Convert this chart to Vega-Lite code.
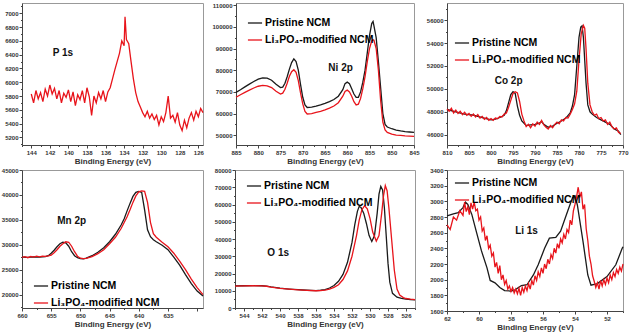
{
"$schema": "https://vega.github.io/schema/vega-lite/v6.json",
"padding": {"left": 0, "top": 1, "right": 0, "bottom": 0},
"background": "white",
"config": {
  "font": "Liberation Sans",
  "view": {"stroke": "#999", "strokeWidth": 1},
  "axis": {"labelFontSize": 6, "labelFontWeight": "bold", "labelColor": "#333", "domainColor": "#444", "tickColor": "#444", "tickSize": 3, "grid": false, "labelPadding": 1, "titleFontSize": 8, "titleFontWeight": "bold", "titleColor": "#333", "titlePadding": 2, "labelFlush": false, "labelOverlap": false, "labelBound": false},
  "line": {"strokeWidth": 1.3, "clip": true},
  "text": {"font": "Liberation Sans", "fontWeight": "bold", "fontSize": 10, "color": "#111"},
  "legend": {"title": null, "orient": "none", "symbolType": "stroke", "symbolSize": 200, "symbolStrokeWidth": 1.5, "labelFontSize": 10.5, "labelFontWeight": "bold", "rowPadding": 3, "labelOffset": 2, "padding": 0, "labelLimit": 200}
},
"datasets": {
"p1s": [
{"e":144.00,"i":5830},{"e":143.75,"i":5700},{"e":143.50,"i":5880},{"e":143.25,"i":5760},{"e":143.00,"i":5850},{"e":142.75,"i":5720},{"e":142.50,"i":5900},{"e":142.25,"i":5800},{"e":142.00,"i":5960},{"e":141.75,"i":5830},{"e":141.50,"i":5910},{"e":141.25,"i":5760},{"e":141.00,"i":5880},{"e":140.75,"i":5700},{"e":140.50,"i":5840},{"e":140.25,"i":5780},{"e":140.00,"i":5890},{"e":139.75,"i":5720},{"e":139.50,"i":5860},{"e":139.25,"i":5660},{"e":139.00,"i":5820},{"e":138.75,"i":5750},{"e":138.50,"i":5880},{"e":138.25,"i":5700},{"e":138.00,"i":5920},{"e":137.75,"i":5790},{"e":137.50,"i":5520},{"e":137.25,"i":5800},{"e":137.00,"i":5700},{"e":136.75,"i":5850},{"e":136.50,"i":5760},{"e":136.25,"i":5880},{"e":136.00,"i":5720},{"e":135.75,"i":5860},{"e":135.50,"i":5920},{"e":135.25,"i":6050},{"e":135.00,"i":6180},{"e":134.75,"i":6300},{"e":134.50,"i":6420},{"e":134.25,"i":6600},{"e":134.00,"i":6530},{"e":133.90,"i":6950},{"e":133.75,"i":6620},{"e":133.50,"i":6560},{"e":133.25,"i":6300},{"e":133.00,"i":6050},{"e":132.75,"i":5850},{"e":132.50,"i":5720},{"e":132.25,"i":5640},{"e":132.00,"i":5560},{"e":131.75,"i":5500},{"e":131.50,"i":5580},{"e":131.25,"i":5480},{"e":131.00,"i":5540},{"e":130.75,"i":5460},{"e":130.50,"i":5520},{"e":130.25,"i":5380},{"e":130.00,"i":5500},{"e":129.75,"i":5430},{"e":129.50,"i":5560},{"e":129.25,"i":5800},{"e":129.00,"i":5480},{"e":128.75,"i":5520},{"e":128.50,"i":5420},{"e":128.25,"i":5560},{"e":128.00,"i":5380},{"e":127.75,"i":5300},{"e":127.50,"i":5450},{"e":127.25,"i":5340},{"e":127.00,"i":5480},{"e":126.75,"i":5560},{"e":126.50,"i":5450},{"e":126.25,"i":5580},{"e":126.00,"i":5500},{"e":125.75,"i":5620},{"e":125.50,"i":5560}
],
"ni": [
{"s":"P","e":885,"i":69800},{"s":"P","e":884,"i":71000},{"s":"P","e":883,"i":72300},{"s":"P","e":882,"i":73600},{"s":"P","e":881,"i":74800},{"s":"P","e":880,"i":75900},{"s":"P","e":879,"i":76500},{"s":"P","e":878,"i":76300},{"s":"P","e":877,"i":75400},{"s":"P","e":876,"i":73500},{"s":"P","e":875,"i":72000},{"s":"P","e":874.5,"i":72200},{"s":"P","e":874,"i":74000},{"s":"P","e":873.5,"i":77000},{"s":"P","e":873,"i":80500},{"s":"P","e":872.5,"i":83500},{"s":"P","e":872,"i":85200},{"s":"P","e":871.5,"i":84000},{"s":"P","e":871,"i":80000},{"s":"P","e":870.5,"i":73500},{"s":"P","e":870,"i":67500},{"s":"P","e":869.5,"i":64000},{"s":"P","e":869,"i":62800},{"s":"P","e":868,"i":63000},{"s":"P","e":867,"i":63400},{"s":"P","e":866,"i":64000},{"s":"P","e":865,"i":64700},{"s":"P","e":864,"i":65500},{"s":"P","e":863,"i":66500},{"s":"P","e":862,"i":68000},{"s":"P","e":861,"i":71000},{"s":"P","e":860.5,"i":73800},{"s":"P","e":860,"i":74500},{"s":"P","e":859.5,"i":73800},{"s":"P","e":859,"i":71500},{"s":"P","e":858.5,"i":69000},{"s":"P","e":858,"i":67500},{"s":"P","e":857.5,"i":67500},{"s":"P","e":857,"i":70000},{"s":"P","e":856.5,"i":74500},{"s":"P","e":856,"i":80000},{"s":"P","e":855.5,"i":88000},{"s":"P","e":855,"i":96000},{"s":"P","e":854.5,"i":101500},{"s":"P","e":854.2,"i":102500},{"s":"P","e":854,"i":100500},{"s":"P","e":853.5,"i":95000},{"s":"P","e":853,"i":84000},{"s":"P","e":852.5,"i":72000},{"s":"P","e":852,"i":60000},{"s":"P","e":851.5,"i":55000},{"s":"P","e":851,"i":53800},{"s":"P","e":850,"i":53000},{"s":"P","e":849,"i":52400},{"s":"P","e":848,"i":52000},{"s":"P","e":847,"i":51700},{"s":"P","e":846,"i":51500},{"s":"P","e":845,"i":51300},
{"s":"L","e":885,"i":67500},{"s":"L","e":884,"i":68700},{"s":"L","e":883,"i":69800},{"s":"L","e":882,"i":70800},{"s":"L","e":881,"i":71800},{"s":"L","e":880,"i":72600},{"s":"L","e":879,"i":73000},{"s":"L","e":878,"i":72800},{"s":"L","e":877,"i":72000},{"s":"L","e":876,"i":70300},{"s":"L","e":875,"i":69000},{"s":"L","e":874.5,"i":69400},{"s":"L","e":874,"i":71200},{"s":"L","e":873.5,"i":74000},{"s":"L","e":873,"i":77200},{"s":"L","e":872.5,"i":79300},{"s":"L","e":872,"i":80200},{"s":"L","e":871.5,"i":79000},{"s":"L","e":871,"i":75200},{"s":"L","e":870.5,"i":69500},{"s":"L","e":870,"i":64500},{"s":"L","e":869.5,"i":61000},{"s":"L","e":869,"i":59800},{"s":"L","e":868,"i":60000},{"s":"L","e":867,"i":60500},{"s":"L","e":866,"i":61000},{"s":"L","e":865,"i":61700},{"s":"L","e":864,"i":62500},{"s":"L","e":863,"i":63500},{"s":"L","e":862,"i":65000},{"s":"L","e":861,"i":68000},{"s":"L","e":860.5,"i":70200},{"s":"L","e":860,"i":70800},{"s":"L","e":859.5,"i":70000},{"s":"L","e":859,"i":68000},{"s":"L","e":858.5,"i":65500},{"s":"L","e":858,"i":64000},{"s":"L","e":857.5,"i":64300},{"s":"L","e":857,"i":67000},{"s":"L","e":856.5,"i":71500},{"s":"L","e":856,"i":77000},{"s":"L","e":855.5,"i":84000},{"s":"L","e":855,"i":90000},{"s":"L","e":854.5,"i":93500},{"s":"L","e":854.2,"i":94000},{"s":"L","e":854,"i":93800},{"s":"L","e":853.5,"i":90000},{"s":"L","e":853,"i":80000},{"s":"L","e":852.5,"i":66000},{"s":"L","e":852,"i":56000},{"s":"L","e":851.5,"i":52500},{"s":"L","e":851,"i":51300},{"s":"L","e":850,"i":50500},{"s":"L","e":849,"i":50100},{"s":"L","e":848,"i":49900},{"s":"L","e":847,"i":49700},{"s":"L","e":846,"i":49600},{"s":"L","e":845,"i":49500}
],
"co": [
{"s":"P","e":810,"i":48200},{"s":"P","e":808,"i":48000},{"s":"P","e":806,"i":47800},{"s":"P","e":804,"i":47700},{"s":"P","e":802,"i":47500},{"s":"P","e":800,"i":47300},{"s":"P","e":799,"i":47350},{"s":"P","e":798,"i":47500},{"s":"P","e":797,"i":47700},{"s":"P","e":796.5,"i":48100},{"s":"P","e":796,"i":48800},{"s":"P","e":795.5,"i":49500},{"s":"P","e":795,"i":49750},{"s":"P","e":794.5,"i":49600},{"s":"P","e":794,"i":48500},{"s":"P","e":793.5,"i":47700},{"s":"P","e":793,"i":47200},{"s":"P","e":792,"i":46800},{"s":"P","e":791,"i":46850},{"s":"P","e":790,"i":46900},{"s":"P","e":789,"i":47000},{"s":"P","e":788.5,"i":47150},{"s":"P","e":788,"i":46900},{"s":"P","e":787,"i":46650},{"s":"P","e":786,"i":46750},{"s":"P","e":785,"i":47000},{"s":"P","e":784,"i":47200},{"s":"P","e":783,"i":47450},{"s":"P","e":782,"i":47900},{"s":"P","e":781.5,"i":48500},{"s":"P","e":781,"i":49500},{"s":"P","e":780.5,"i":52000},{"s":"P","e":780,"i":54500},{"s":"P","e":779.6,"i":55400},{"s":"P","e":779.3,"i":55500},{"s":"P","e":779,"i":54500},{"s":"P","e":778.7,"i":52500},{"s":"P","e":778.4,"i":50500},{"s":"P","e":778,"i":48600},{"s":"P","e":777.5,"i":48000},{"s":"P","e":777,"i":47800},{"s":"P","e":776,"i":47500},{"s":"P","e":775,"i":47300},{"s":"P","e":774,"i":47100},{"s":"P","e":773,"i":46900},{"s":"P","e":772,"i":46500},{"s":"P","e":771,"i":46300},{"s":"P","e":770.5,"i":46000},
{"s":"L","e":810,"i":48250},{"s":"L","e":809.5,"i":48050},{"s":"L","e":809,"i":48300},{"s":"L","e":808.5,"i":47900},{"s":"L","e":808,"i":48150},{"s":"L","e":807.5,"i":47850},{"s":"L","e":807,"i":48050},{"s":"L","e":806.5,"i":47750},{"s":"L","e":806,"i":47950},{"s":"L","e":805.5,"i":47700},{"s":"L","e":805,"i":47850},{"s":"L","e":804.5,"i":47600},{"s":"L","e":804,"i":47800},{"s":"L","e":803.5,"i":47550},{"s":"L","e":803,"i":47750},{"s":"L","e":802.5,"i":47450},{"s":"L","e":802,"i":47600},{"s":"L","e":801.5,"i":47350},{"s":"L","e":801,"i":47500},{"s":"L","e":800.5,"i":47250},{"s":"L","e":800,"i":47400},{"s":"L","e":799.5,"i":47250},{"s":"L","e":799,"i":47450},{"s":"L","e":798.5,"i":47400},{"s":"L","e":798,"i":47600},{"s":"L","e":797.5,"i":47550},{"s":"L","e":797,"i":47800},{"s":"L","e":796.5,"i":47900},{"s":"L","e":796,"i":48400},{"s":"L","e":795.5,"i":49000},{"s":"L","e":795,"i":49600},{"s":"L","e":794.5,"i":49750},{"s":"L","e":794,"i":49650},{"s":"L","e":793.5,"i":48900},{"s":"L","e":793,"i":47800},{"s":"L","e":792.5,"i":47200},{"s":"L","e":792,"i":46700},{"s":"L","e":791.5,"i":46900},{"s":"L","e":791,"i":46600},{"s":"L","e":790.5,"i":46950},{"s":"L","e":790,"i":46750},{"s":"L","e":789.5,"i":47100},{"s":"L","e":789,"i":46900},{"s":"L","e":788.5,"i":47250},{"s":"L","e":788,"i":46850},{"s":"L","e":787.5,"i":46650},{"s":"L","e":787,"i":46500},{"s":"L","e":786.5,"i":46800},{"s":"L","e":786,"i":46600},{"s":"L","e":785.5,"i":46900},{"s":"L","e":785,"i":47100},{"s":"L","e":784.5,"i":46950},{"s":"L","e":784,"i":47300},{"s":"L","e":783.5,"i":47200},{"s":"L","e":783,"i":47500},{"s":"L","e":782.5,"i":47450},{"s":"L","e":782,"i":47800},{"s":"L","e":781.5,"i":48200},{"s":"L","e":781,"i":48700},{"s":"L","e":780.5,"i":49800},{"s":"L","e":780,"i":52500},{"s":"L","e":779.5,"i":54800},{"s":"L","e":779,"i":55550},{"s":"L","e":778.7,"i":55300},{"s":"L","e":778.4,"i":53500},{"s":"L","e":778,"i":50500},{"s":"L","e":777.5,"i":48600},{"s":"L","e":777,"i":48000},{"s":"L","e":776.5,"i":47700},{"s":"L","e":776,"i":47800},{"s":"L","e":775.5,"i":47400},{"s":"L","e":775,"i":47500},{"s":"L","e":774.5,"i":47200},{"s":"L","e":774,"i":47300},{"s":"L","e":773.5,"i":46900},{"s":"L","e":773,"i":47100},{"s":"L","e":772.5,"i":46700},{"s":"L","e":772,"i":46500},{"s":"L","e":771.5,"i":46600},{"s":"L","e":771,"i":46200},{"s":"L","e":770.5,"i":46100}
],
"mn": [
{"s":"P","e":660,"i":27500},{"s":"P","e":659,"i":27450},{"s":"P","e":658,"i":27550},{"s":"P","e":657,"i":27500},{"s":"P","e":656,"i":27600},{"s":"P","e":655.5,"i":27800},{"s":"P","e":655,"i":28300},{"s":"P","e":654.5,"i":28900},{"s":"P","e":654,"i":29600},{"s":"P","e":653.5,"i":30200},{"s":"P","e":653,"i":30500},{"s":"P","e":652.5,"i":30400},{"s":"P","e":652,"i":29700},{"s":"P","e":651.5,"i":28600},{"s":"P","e":651,"i":27800},{"s":"P","e":650.5,"i":27400},{"s":"P","e":650,"i":27200},{"s":"P","e":649.5,"i":27150},{"s":"P","e":649,"i":27300},{"s":"P","e":648,"i":27800},{"s":"P","e":647,"i":28500},{"s":"P","e":646,"i":29400},{"s":"P","e":645,"i":30600},{"s":"P","e":644,"i":32100},{"s":"P","e":643,"i":34000},{"s":"P","e":642.5,"i":35200},{"s":"P","e":642,"i":36800},{"s":"P","e":641.5,"i":38300},{"s":"P","e":641,"i":39700},{"s":"P","e":640.5,"i":40500},{"s":"P","e":640,"i":40700},{"s":"P","e":639.5,"i":40500},{"s":"P","e":639,"i":37000},{"s":"P","e":638.5,"i":33000},{"s":"P","e":638,"i":31600},{"s":"P","e":637.5,"i":31000},{"s":"P","e":637,"i":30600},{"s":"P","e":636,"i":29900},{"s":"P","e":635,"i":29000},{"s":"P","e":634,"i":27500},{"s":"P","e":633,"i":25900},{"s":"P","e":632,"i":24000},{"s":"P","e":631,"i":22200},{"s":"P","e":630,"i":20700},{"s":"P","e":629,"i":19700},
{"s":"L","e":660,"i":27450},{"s":"L","e":659.5,"i":27600},{"s":"L","e":659,"i":27400},{"s":"L","e":658.5,"i":27650},{"s":"L","e":658,"i":27500},{"s":"L","e":657.5,"i":27700},{"s":"L","e":657,"i":27550},{"s":"L","e":656.5,"i":27700},{"s":"L","e":656,"i":27650},{"s":"L","e":655.5,"i":27750},{"s":"L","e":655,"i":27900},{"s":"L","e":654.5,"i":28400},{"s":"L","e":654,"i":29000},{"s":"L","e":653.5,"i":29700},{"s":"L","e":653,"i":30200},{"s":"L","e":652.5,"i":30600},{"s":"L","e":652,"i":30500},{"s":"L","e":651.5,"i":29700},{"s":"L","e":651,"i":28600},{"s":"L","e":650.5,"i":27700},{"s":"L","e":650,"i":27300},{"s":"L","e":649.5,"i":27200},{"s":"L","e":649,"i":27250},{"s":"L","e":648,"i":27600},{"s":"L","e":647,"i":28200},{"s":"L","e":646,"i":29000},{"s":"L","e":645,"i":30200},{"s":"L","e":644,"i":31500},{"s":"L","e":643,"i":33300},{"s":"L","e":642,"i":35600},{"s":"L","e":641.5,"i":37000},{"s":"L","e":641,"i":38500},{"s":"L","e":640.5,"i":39800},{"s":"L","e":640,"i":40600},{"s":"L","e":639.5,"i":40800},{"s":"L","e":639,"i":40700},{"s":"L","e":638.5,"i":38500},{"s":"L","e":638,"i":34500},{"s":"L","e":637.5,"i":32200},{"s":"L","e":637,"i":31500},{"s":"L","e":636,"i":30500},{"s":"L","e":635,"i":29600},{"s":"L","e":634,"i":28300},{"s":"L","e":633,"i":26700},{"s":"L","e":632,"i":25000},{"s":"L","e":631,"i":23100},{"s":"L","e":630,"i":21400},{"s":"L","e":629,"i":20000}
],
"o": [
{"s":"P","e":545,"i":12800},{"s":"P","e":544,"i":12900},{"s":"P","e":543,"i":13000},{"s":"P","e":542,"i":12900},{"s":"P","e":541.5,"i":12700},{"s":"P","e":541,"i":12200},{"s":"P","e":540,"i":11500},{"s":"P","e":539,"i":11000},{"s":"P","e":538,"i":10600},{"s":"P","e":537,"i":10300},{"s":"P","e":536,"i":10100},{"s":"P","e":535.5,"i":10300},{"s":"P","e":535,"i":10700},{"s":"P","e":534.5,"i":11600},{"s":"P","e":534,"i":13000},{"s":"P","e":533.5,"i":15500},{"s":"P","e":533,"i":19500},{"s":"P","e":532.5,"i":26500},{"s":"P","e":532,"i":38000},{"s":"P","e":531.7,"i":48000},{"s":"P","e":531.4,"i":56000},{"s":"P","e":531.2,"i":58900},{"s":"P","e":531,"i":58300},{"s":"P","e":530.7,"i":55000},{"s":"P","e":530.4,"i":49000},{"s":"P","e":530.1,"i":42000},{"s":"P","e":529.8,"i":38600},{"s":"P","e":529.5,"i":42000},{"s":"P","e":529.2,"i":55000},{"s":"P","e":529,"i":66000},{"s":"P","e":528.8,"i":70500},{"s":"P","e":528.6,"i":68500},{"s":"P","e":528.4,"i":58000},{"s":"P","e":528.2,"i":42000},{"s":"P","e":528,"i":26000},{"s":"P","e":527.8,"i":15000},{"s":"P","e":527.5,"i":8500},{"s":"P","e":527,"i":6300},{"s":"P","e":526.5,"i":5600},{"s":"P","e":526,"i":5100},{"s":"P","e":525.5,"i":4900},{"s":"P","e":525,"i":4700},
{"s":"L","e":545,"i":12700},{"s":"L","e":544,"i":12800},{"s":"L","e":543,"i":12900},{"s":"L","e":542,"i":12800},{"s":"L","e":541.5,"i":12600},{"s":"L","e":541,"i":12100},{"s":"L","e":540,"i":11400},{"s":"L","e":539,"i":10900},{"s":"L","e":538,"i":10500},{"s":"L","e":537,"i":10200},{"s":"L","e":536,"i":10000},{"s":"L","e":535.5,"i":10100},{"s":"L","e":535,"i":10400},{"s":"L","e":534.5,"i":11000},{"s":"L","e":534,"i":12000},{"s":"L","e":533.5,"i":13500},{"s":"L","e":533,"i":16500},{"s":"L","e":532.5,"i":21500},{"s":"L","e":532,"i":30000},{"s":"L","e":531.5,"i":42000},{"s":"L","e":531.2,"i":51000},{"s":"L","e":530.9,"i":57000},{"s":"L","e":530.6,"i":59300},{"s":"L","e":530.3,"i":57500},{"s":"L","e":530,"i":52000},{"s":"L","e":529.7,"i":44000},{"s":"L","e":529.3,"i":38800},{"s":"L","e":529,"i":42000},{"s":"L","e":528.7,"i":55000},{"s":"L","e":528.5,"i":65000},{"s":"L","e":528.3,"i":71000},{"s":"L","e":528.1,"i":68000},{"s":"L","e":527.9,"i":58000},{"s":"L","e":527.6,"i":40000},{"s":"L","e":527.3,"i":22000},{"s":"L","e":527,"i":11000},{"s":"L","e":526.7,"i":7500},{"s":"L","e":526.3,"i":6000},{"s":"L","e":526,"i":5500},{"s":"L","e":525.5,"i":5100},{"s":"L","e":525,"i":4900}
],
"li": [
{"s":"P","e":62,"i":2814},{"s":"P","e":61.6,"i":2840},{"s":"P","e":61.3,"i":2856},{"s":"P","e":61.0,"i":2920},{"s":"P","e":60.85,"i":2990},{"s":"P","e":60.7,"i":2960},{"s":"P","e":60.45,"i":2834},{"s":"P","e":60.15,"i":2600},{"s":"P","e":59.85,"i":2370},{"s":"P","e":59.5,"i":2150},{"s":"P","e":59.3,"i":1990},{"s":"P","e":59.0,"i":1960},{"s":"P","e":58.7,"i":1900},{"s":"P","e":58.4,"i":1860},{"s":"P","e":58.0,"i":1855},{"s":"P","e":57.75,"i":1870},{"s":"P","e":57.35,"i":1925},{"s":"P","e":57.0,"i":1935},{"s":"P","e":56.6,"i":2060},{"s":"P","e":56.3,"i":2190},{"s":"P","e":55.9,"i":2400},{"s":"P","e":55.6,"i":2530},{"s":"P","e":55.2,"i":2540},{"s":"P","e":54.9,"i":2620},{"s":"P","e":54.45,"i":2880},{"s":"P","e":54.15,"i":3050},{"s":"P","e":54.0,"i":3070},{"s":"P","e":53.85,"i":2950},{"s":"P","e":53.5,"i":2490},{"s":"P","e":53.2,"i":2060},{"s":"P","e":53.0,"i":1930},{"s":"P","e":52.6,"i":1950},{"s":"P","e":52.0,"i":2040},{"s":"P","e":51.45,"i":2190},{"s":"P","e":51.05,"i":2400},{"s":"P","e":51.0,"i":2420},
{"s":"L","e":62.0,"i":2700},{"s":"L","e":61.8,"i":2640},{"s":"L","e":61.6,"i":2800},{"s":"L","e":61.4,"i":2760},{"s":"L","e":61.2,"i":2880},{"s":"L","e":61.0,"i":2820},{"s":"L","e":60.9,"i":2990},{"s":"L","e":60.8,"i":2870},{"s":"L","e":60.7,"i":2930},{"s":"L","e":60.6,"i":2830},{"s":"L","e":60.5,"i":2980},{"s":"L","e":60.4,"i":2900},{"s":"L","e":60.3,"i":2990},{"s":"L","e":60.2,"i":2880},{"s":"L","e":60.1,"i":2900},{"s":"L","e":60.0,"i":2760},{"s":"L","e":59.9,"i":2800},{"s":"L","e":59.8,"i":2620},{"s":"L","e":59.7,"i":2660},{"s":"L","e":59.6,"i":2500},{"s":"L","e":59.5,"i":2560},{"s":"L","e":59.4,"i":2400},{"s":"L","e":59.3,"i":2440},{"s":"L","e":59.2,"i":2300},{"s":"L","e":59.1,"i":2340},{"s":"L","e":59.0,"i":2160},{"s":"L","e":58.9,"i":2220},{"s":"L","e":58.8,"i":2080},{"s":"L","e":58.7,"i":2180},{"s":"L","e":58.6,"i":2000},{"s":"L","e":58.5,"i":2060},{"s":"L","e":58.4,"i":1940},{"s":"L","e":58.3,"i":1990},{"s":"L","e":58.2,"i":1880},{"s":"L","e":58.1,"i":1920},{"s":"L","e":58.0,"i":1850},{"s":"L","e":57.9,"i":1900},{"s":"L","e":57.8,"i":1830},{"s":"L","e":57.7,"i":1880},{"s":"L","e":57.6,"i":1820},{"s":"L","e":57.5,"i":1890},{"s":"L","e":57.4,"i":1800},{"s":"L","e":57.3,"i":1900},{"s":"L","e":57.2,"i":1840},{"s":"L","e":57.1,"i":1920},{"s":"L","e":57.0,"i":1860},{"s":"L","e":56.9,"i":1950},{"s":"L","e":56.8,"i":1880},{"s":"L","e":56.7,"i":1990},{"s":"L","e":56.6,"i":1930},{"s":"L","e":56.5,"i":2050},{"s":"L","e":56.4,"i":1990},{"s":"L","e":56.3,"i":2100},{"s":"L","e":56.2,"i":2040},{"s":"L","e":56.1,"i":2150},{"s":"L","e":56.0,"i":2080},{"s":"L","e":55.9,"i":2200},{"s":"L","e":55.8,"i":2140},{"s":"L","e":55.7,"i":2260},{"s":"L","e":55.6,"i":2200},{"s":"L","e":55.5,"i":2320},{"s":"L","e":55.4,"i":2270},{"s":"L","e":55.3,"i":2400},{"s":"L","e":55.2,"i":2340},{"s":"L","e":55.1,"i":2460},{"s":"L","e":55.0,"i":2400},{"s":"L","e":54.9,"i":2520},{"s":"L","e":54.8,"i":2470},{"s":"L","e":54.7,"i":2580},{"s":"L","e":54.6,"i":2520},{"s":"L","e":54.5,"i":2640},{"s":"L","e":54.4,"i":2600},{"s":"L","e":54.3,"i":2760},{"s":"L","e":54.2,"i":2700},{"s":"L","e":54.1,"i":2880},{"s":"L","e":54.0,"i":2960},{"s":"L","e":53.9,"i":3060},{"s":"L","e":53.8,"i":3180},{"s":"L","e":53.7,"i":3050},{"s":"L","e":53.6,"i":3120},{"s":"L","e":53.5,"i":2900},{"s":"L","e":53.4,"i":2960},{"s":"L","e":53.3,"i":2650},{"s":"L","e":53.2,"i":2500},{"s":"L","e":53.1,"i":2300},{"s":"L","e":53.0,"i":2200},{"s":"L","e":52.9,"i":2050},{"s":"L","e":52.8,"i":1980},{"s":"L","e":52.7,"i":1900},{"s":"L","e":52.6,"i":1960},{"s":"L","e":52.5,"i":1880},{"s":"L","e":52.4,"i":1990},{"s":"L","e":52.3,"i":1920},{"s":"L","e":52.2,"i":2000},{"s":"L","e":52.1,"i":1940},{"s":"L","e":52.0,"i":2020},{"s":"L","e":51.9,"i":1960},{"s":"L","e":51.8,"i":2060},{"s":"L","e":51.7,"i":2000},{"s":"L","e":51.6,"i":2090},{"s":"L","e":51.5,"i":2040},{"s":"L","e":51.4,"i":2130},{"s":"L","e":51.3,"i":2080},{"s":"L","e":51.2,"i":2160},{"s":"L","e":51.1,"i":2110},{"s":"L","e":51.0,"i":2200}
]
},
"spacing": 0,
"resolve": {"scale": {"color": "independent"}, "legend": {"color": "independent"}},
"vconcat": [
{
"hconcat": [
{
"width": 181, "height": 142,
"layer": [
{"data": {"name": "p1s"}, "mark": {"type": "line", "color": "#e8141b"},
 "encoding": {
  "x": {"field": "e", "type": "quantitative", "scale": {"domain": [125.5, 145], "reverse": true, "nice": false, "zero": false}, "axis": {"values": [126,127,128,129,130,131,132,133,134,135,136,137,138,139,140,141,142,143,144,145], "labelOverlap": false, "labelExpr": "datum.value % 2 === 0 && datum.value < 145 ? datum.label : ''", "tickSize": {"condition": {"test": "datum.value % 2 === 0", "value": 3}, "value": 1.5}, "title": "Binding Energy (eV)"}},
  "y": {"field": "i", "type": "quantitative", "scale": {"domain": [5090, 7150], "nice": false, "zero": false}, "axis": {"values": [5100,5200,5300,5400,5500,5600,5700,5800,5900,6000,6100,6200,6300,6400,6500,6600,6700,6800,6900,7000,7100], "labelOverlap": false, "labelExpr": "datum.value % 200 === 0 ? datum.label : ''", "tickSize": {"condition": {"test": "datum.value % 200 === 0", "value": 3}, "value": 1.5}, "title": null, "format": "d"}}
 }},
{"data": {"values": [{"t": "P 1s"}]}, "mark": {"type": "text"},
 "encoding": {
  "x": {"datum": 140.6, "type": "quantitative", "axis": {"values": [126,127,128,129,130,131,132,133,134,135,136,137,138,139,140,141,142,143,144,145], "labelOverlap": false, "labelExpr": "datum.value % 2 === 0 && datum.value < 145 ? datum.label : ''", "tickSize": {"condition": {"test": "datum.value % 2 === 0", "value": 3}, "value": 1.5}, "title": "Binding Energy (eV)"}},
  "y": {"datum": 6424, "type": "quantitative", "axis": {"values": [5100,5200,5300,5400,5500,5600,5700,5800,5900,6000,6100,6200,6300,6400,6500,6600,6700,6800,6900,7000,7100], "labelOverlap": false, "labelExpr": "datum.value % 200 === 0 ? datum.label : ''", "tickSize": {"condition": {"test": "datum.value % 200 === 0", "value": 3}, "value": 1.5}, "title": null, "format": "d"}},
  "text": {"field": "t"}}}
]
},
{
"width": 178, "height": 142,
"layer": [
{"data": {"name": "ni"}, "mark": {"type": "line"},
 "encoding": {
  "x": {"field": "e", "type": "quantitative", "scale": {"domain": [845, 885], "reverse": true, "nice": false, "zero": false}, "axis": {"values": [845,847.5,850,852.5,855,857.5,860,862.5,865,867.5,870,872.5,875,877.5,880,882.5,885], "labelOverlap": false, "labelExpr": "datum.value % 5 === 0 ? datum.label : ''", "tickSize": {"condition": {"test": "datum.value % 5 === 0", "value": 3}, "value": 1.5}, "title": "Binding Energy (eV)"}},
  "y": {"field": "i", "type": "quantitative", "scale": {"domain": [45500, 111000], "nice": false, "zero": false}, "axis": {"values": [50000,55000,60000,65000,70000,75000,80000,85000,90000,95000,100000,105000,110000], "labelOverlap": false, "labelExpr": "datum.value % 10000 === 0 ? datum.label : ''", "tickSize": {"condition": {"test": "datum.value % 10000 === 0", "value": 3}, "value": 1.5}, "title": null, "format": "d"}},
  "color": {"field": "s", "type": "nominal", "scale": {"domain": ["P", "L"], "range": ["#1a1a1a", "#e8141b"]},
   "legend": {"legendX": 11, "legendY": 12, "labelExpr": "datum.value == 'P' ? 'Pristine NCM' : 'Li₃PO₄-modified NCM'", "encode": {"labels": {"update": {"fill": {"signal": "datum.value == 'P' ? '#1a1a1a' : '#e8141b'"}}}}}}
 }},
{"data": {"values": [{"t": "Ni 2p"}]}, "mark": {"type": "text"},
 "encoding": {
  "x": {"datum": 861.5, "type": "quantitative", "axis": {"values": [845,847.5,850,852.5,855,857.5,860,862.5,865,867.5,870,872.5,875,877.5,880,882.5,885], "labelOverlap": false, "labelExpr": "datum.value % 5 === 0 ? datum.label : ''", "tickSize": {"condition": {"test": "datum.value % 5 === 0", "value": 3}, "value": 1.5}, "title": "Binding Energy (eV)"}},
  "y": {"datum": 81000, "type": "quantitative", "axis": {"values": [50000,55000,60000,65000,70000,75000,80000,85000,90000,95000,100000,105000,110000], "labelOverlap": false, "labelExpr": "datum.value % 10000 === 0 ? datum.label : ''", "tickSize": {"condition": {"test": "datum.value % 10000 === 0", "value": 3}, "value": 1.5}, "title": null, "format": "d"}},
  "text": {"field": "t"}}}
]
},
{
"width": 176, "height": 142,
"layer": [
{"data": {"name": "co"}, "mark": {"type": "line"},
 "encoding": {
  "x": {"field": "e", "type": "quantitative", "scale": {"domain": [770, 810], "reverse": true, "nice": false, "zero": false}, "axis": {"values": [770,772.5,775,777.5,780,782.5,785,787.5,790,792.5,795,797.5,800,802.5,805,807.5,810], "labelOverlap": false, "labelExpr": "datum.value % 5 === 0 ? datum.label : ''", "tickSize": {"condition": {"test": "datum.value % 5 === 0", "value": 3}, "value": 1.5}, "title": "Binding Energy (eV)"}},
  "y": {"field": "i", "type": "quantitative", "scale": {"domain": [45100, 57500], "nice": false, "zero": false}, "axis": {"values": [46000,47000,48000,49000,50000,51000,52000,53000,54000,55000,56000,57000], "labelOverlap": false, "labelExpr": "datum.value % 2000 === 0 ? datum.label : ''", "tickSize": {"condition": {"test": "datum.value % 2000 === 0", "value": 3}, "value": 1.5}, "title": null, "format": "d"}},
  "color": {"field": "s", "type": "nominal", "scale": {"domain": ["P", "L"], "range": ["#1a1a1a", "#e8141b"]},
   "legend": {"legendX": 7, "legendY": 32, "labelExpr": "datum.value == 'P' ? 'Pristine NCM' : 'Li₃PO₄-modified NCM'", "encode": {"labels": {"update": {"fill": {"signal": "datum.value == 'P' ? '#1a1a1a' : '#e8141b'"}}}}}}
 }},
{"data": {"values": [{"t": "Co 2p"}]}, "mark": {"type": "text"},
 "encoding": {
  "x": {"datum": 796, "type": "quantitative", "axis": {"values": [770,772.5,775,777.5,780,782.5,785,787.5,790,792.5,795,797.5,800,802.5,805,807.5,810], "labelOverlap": false, "labelExpr": "datum.value % 5 === 0 ? datum.label : ''", "tickSize": {"condition": {"test": "datum.value % 5 === 0", "value": 3}, "value": 1.5}, "title": "Binding Energy (eV)"}},
  "y": {"datum": 50720, "type": "quantitative", "axis": {"values": [46000,47000,48000,49000,50000,51000,52000,53000,54000,55000,56000,57000], "labelOverlap": false, "labelExpr": "datum.value % 2000 === 0 ? datum.label : ''", "tickSize": {"condition": {"test": "datum.value % 2000 === 0", "value": 3}, "value": 1.5}, "title": null, "format": "d"}},
  "text": {"field": "t"}}}
]
}
],
"spacing": 33,
"bounds": "flush",
"resolve": {"scale": {"color": "independent"}, "legend": {"color": "independent"}}
},
{
"hconcat": [
{
"width": 181, "height": 138,
"layer": [
{"data": {"name": "mn"}, "mark": {"type": "line"},
 "encoding": {
  "x": {"field": "e", "type": "quantitative", "scale": {"domain": [629, 660], "reverse": true, "nice": false, "zero": false}, "axis": {"values": [630,632.5,635,637.5,640,642.5,645,647.5,650,652.5,655,657.5,660], "labelOverlap": false, "labelExpr": "datum.value % 5 === 0 && datum.value > 631 ? datum.label : ''", "tickSize": {"condition": {"test": "datum.value % 5 === 0", "value": 3}, "value": 1.5}, "title": "Binding Energy (eV)"}},
  "y": {"field": "i", "type": "quantitative", "scale": {"domain": [17300, 45000], "nice": false, "zero": false}, "axis": {"values": [17500,20000,22500,25000,27500,30000,32500,35000,37500,40000,42500,45000], "labelOverlap": false, "labelExpr": "datum.value % 5000 === 0 ? datum.label : ''", "tickSize": {"condition": {"test": "datum.value % 5000 === 0", "value": 3}, "value": 1.5}, "title": null, "format": "d"}},
  "color": {"field": "s", "type": "nominal", "scale": {"domain": ["P", "L"], "range": ["#1a1a1a", "#e8141b"]},
   "legend": {"legendX": 11, "legendY": 108, "labelExpr": "datum.value == 'P' ? 'Pristine NCM' : 'Li₃PO₄-modified NCM'", "encode": {"labels": {"update": {"fill": {"signal": "datum.value == 'P' ? '#1a1a1a' : '#e8141b'"}}}}}}
 }},
{"data": {"values": [{"t": "Mn 2p"}]}, "mark": {"type": "text"},
 "encoding": {
  "x": {"datum": 651.5, "type": "quantitative", "axis": {"values": [630,632.5,635,637.5,640,642.5,645,647.5,650,652.5,655,657.5,660], "labelOverlap": false, "labelExpr": "datum.value % 5 === 0 && datum.value > 631 ? datum.label : ''", "tickSize": {"condition": {"test": "datum.value % 5 === 0", "value": 3}, "value": 1.5}, "title": "Binding Energy (eV)"}},
  "y": {"datum": 34800, "type": "quantitative", "axis": {"values": [17500,20000,22500,25000,27500,30000,32500,35000,37500,40000,42500,45000], "labelOverlap": false, "labelExpr": "datum.value % 5000 === 0 ? datum.label : ''", "tickSize": {"condition": {"test": "datum.value % 5000 === 0", "value": 3}, "value": 1.5}, "title": null, "format": "d"}},
  "text": {"field": "t"}}}
]
},
{
"width": 180, "height": 138,
"layer": [
{"data": {"name": "o"}, "mark": {"type": "line"},
 "encoding": {
  "x": {"field": "e", "type": "quantitative", "scale": {"domain": [525, 545], "reverse": true, "nice": false, "zero": false}, "axis": {"values": [525,526,527,528,529,530,531,532,533,534,535,536,537,538,539,540,541,542,543,544,545], "labelOverlap": false, "labelExpr": "datum.value % 2 === 0 ? datum.label : ''", "tickSize": {"condition": {"test": "datum.value % 2 === 0", "value": 3}, "value": 1.5}, "title": "Binding Energy (eV)"}},
  "y": {"field": "i", "type": "quantitative", "scale": {"domain": [0, 80000], "nice": false}, "axis": {"values": [0,5000,10000,15000,20000,25000,30000,35000,40000,45000,50000,55000,60000,65000,70000,75000,80000], "labelOverlap": false, "labelExpr": "datum.value % 10000 === 0 ? datum.label : ''", "tickSize": {"condition": {"test": "datum.value % 10000 === 0", "value": 3}, "value": 1.5}, "title": null, "format": "d"}},
  "color": {"field": "s", "type": "nominal", "scale": {"domain": ["P", "L"], "range": ["#1a1a1a", "#e8141b"]},
   "legend": {"legendX": 11, "legendY": 8, "labelExpr": "datum.value == 'P' ? 'Pristine NCM' : 'Li₃PO₄-modified NCM'", "encode": {"labels": {"update": {"fill": {"signal": "datum.value == 'P' ? '#1a1a1a' : '#e8141b'"}}}}}}
 }},
{"data": {"values": [{"t": "O 1s"}]}, "mark": {"type": "text"},
 "encoding": {
  "x": {"datum": 540.2, "type": "quantitative", "axis": {"values": [525,526,527,528,529,530,531,532,533,534,535,536,537,538,539,540,541,542,543,544,545], "labelOverlap": false, "labelExpr": "datum.value % 2 === 0 ? datum.label : ''", "tickSize": {"condition": {"test": "datum.value % 2 === 0", "value": 3}, "value": 1.5}, "title": "Binding Energy (eV)"}},
  "y": {"datum": 31600, "type": "quantitative", "axis": {"values": [0,5000,10000,15000,20000,25000,30000,35000,40000,45000,50000,55000,60000,65000,70000,75000,80000], "labelOverlap": false, "labelExpr": "datum.value % 10000 === 0 ? datum.label : ''", "tickSize": {"condition": {"test": "datum.value % 10000 === 0", "value": 3}, "value": 1.5}, "title": null, "format": "d"}},
  "text": {"field": "t"}}}
]
},
{
"width": 176, "height": 141,
"layer": [
{"data": {"name": "li"}, "mark": {"type": "line"},
 "encoding": {
  "x": {"field": "e", "type": "quantitative", "scale": {"domain": [51, 62], "reverse": true, "nice": false, "zero": false}, "axis": {"values": [51,52,53,54,55,56,57,58,59,60,61,62], "labelOverlap": false, "labelExpr": "datum.value % 2 === 0 ? datum.label : ''", "tickSize": {"condition": {"test": "datum.value % 2 === 0", "value": 3}, "value": 1.5}, "title": "Binding Energy (eV)"}},
  "y": {"field": "i", "type": "quantitative", "scale": {"domain": [1600, 3400], "nice": false, "zero": false}, "axis": {"values": [1600,1700,1800,1900,2000,2100,2200,2300,2400,2500,2600,2700,2800,2900,3000,3100,3200,3300,3400], "labelOverlap": false, "labelExpr": "datum.value % 200 === 0 ? datum.label : ''", "tickSize": {"condition": {"test": "datum.value % 200 === 0", "value": 3}, "value": 1.5}, "title": null, "format": "d"}},
  "color": {"field": "s", "type": "nominal", "scale": {"domain": ["P", "L"], "range": ["#1a1a1a", "#e8141b"]},
   "legend": {"legendX": 7, "legendY": 5, "labelExpr": "datum.value == 'P' ? 'Pristine NCM' : 'Li₃PO₄-modified NCM'", "encode": {"labels": {"update": {"fill": {"signal": "datum.value == 'P' ? '#1a1a1a' : '#e8141b'"}}}}}}
 }},
{"data": {"values": [{"t": "Li 1s"}]}, "mark": {"type": "text"},
 "encoding": {
  "x": {"datum": 57.03, "type": "quantitative", "axis": {"values": [51,52,53,54,55,56,57,58,59,60,61,62], "labelOverlap": false, "labelExpr": "datum.value % 2 === 0 ? datum.label : ''", "tickSize": {"condition": {"test": "datum.value % 2 === 0", "value": 3}, "value": 1.5}, "title": "Binding Energy (eV)"}},
  "y": {"datum": 2616, "type": "quantitative", "axis": {"values": [1600,1700,1800,1900,2000,2100,2200,2300,2400,2500,2600,2700,2800,2900,3000,3100,3200,3300,3400], "labelOverlap": false, "labelExpr": "datum.value % 200 === 0 ? datum.label : ''", "tickSize": {"condition": {"test": "datum.value % 200 === 0", "value": 3}, "value": 1.5}, "title": null, "format": "d"}},
  "text": {"field": "t"}}}
]
}
],
"spacing": 32,
"bounds": "flush",
"resolve": {"scale": {"color": "independent"}, "legend": {"color": "independent"}}
}
]
}
